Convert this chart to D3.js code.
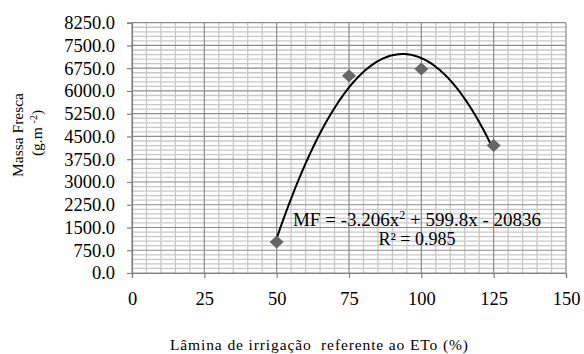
<!DOCTYPE html>
<html>
<head>
<meta charset="utf-8">
<script src="https://cdn.jsdelivr.net/npm/d3@7"></script>
<style>
  html, body { margin: 0; padding: 0; background: #fff; }
</style>
</head>
<body>
<svg id="chart" width="584" height="354" style="display:block;font-family:'Liberation Serif'"></svg>
<script>
// ---- data ----
const lamina = [50, 75, 100, 125];           // % ETo
const massaFresca = [1020, 6500, 6720, 4200]; // g.m-2
const trendCoef = [-3.206, 599.8, -20836];    // a x^2 + b x + c
const r2 = 0.985;
const xTicks = [0, 25, 50, 75, 100, 125, 150];
const yTicks = [0, 750, 1500, 2250, 3000, 3750, 4500, 5250, 6000, 6750, 7500, 8250];

const FONT = "Liberation Serif";
const svg = d3.select("#chart");
const pLeft = 132, pRight = 566, pTop = 22.7, pBottom = 273;

const x = d3.scaleLinear().domain([0, 150]).range([pLeft, pRight]);
const y = d3.scaleLinear().domain([0, 8250]).range([pBottom, pTop]);

const g = svg.append("g");

// minor gridlines
const xMinor = d3.range(0, 151, 5).filter(v => v % 25 !== 0);
const yMinor = d3.range(0, 8251, 150).filter(v => v % 750 !== 0);
g.selectAll(".vminor").data(xMinor).join("line")
  .attr("x1", d => x(d)).attr("x2", d => x(d)).attr("y1", pTop).attr("y2", pBottom)
  .attr("stroke", "#c8c8c8").attr("stroke-width", 1.3);
g.selectAll(".hminor").data(yMinor).join("line")
  .attr("x1", pLeft).attr("x2", pRight).attr("y1", d => y(d)).attr("y2", d => y(d))
  .attr("stroke", "#c8c8c8").attr("stroke-width", 1.3);
// major gridlines
g.selectAll(".vmajor").data(xTicks).join("line")
  .attr("x1", d => x(d)).attr("x2", d => x(d)).attr("y1", pTop).attr("y2", pBottom)
  .attr("stroke", "#8c8c8c").attr("stroke-width", 1.2);
g.selectAll(".hmajor").data(yTicks).join("line")
  .attr("x1", pLeft).attr("x2", pRight).attr("y1", d => y(d)).attr("y2", d => y(d))
  .attr("stroke", "#8c8c8c").attr("stroke-width", 1.2);

// axes
const xAxis = d3.axisBottom(x).tickValues(xTicks).tickSize(5).tickPadding(14).tickFormat(d3.format("d"));
const yAxis = d3.axisLeft(y).tickValues(yTicks).tickSize(5).tickPadding(12).tickFormat(d3.format(".1f"));

const gx = svg.append("g").attr("transform", `translate(0,${pBottom})`).call(xAxis);
const gy = svg.append("g").attr("transform", `translate(${pLeft},0)`).call(yAxis);
[gx, gy].forEach(a => {
  a.attr("font-family", FONT).attr("font-size", 18.5);
  a.select(".domain").attr("stroke", "#808080").attr("stroke-width", 1.2);
  a.selectAll(".tick line").attr("stroke", "#808080").attr("stroke-width", 1.2);
  a.selectAll(".tick text").attr("fill", "#000").attr("font-family", FONT).attr("font-size", 18.5);
});

// trendline
const fit = v => trendCoef[0] * v * v + trendCoef[1] * v + trendCoef[2];
const xs = d3.range(d3.min(lamina), d3.max(lamina) + 0.01, 0.5);
svg.append("path")
  .datum(xs)
  .attr("d", d3.line().x(d => x(d)).y(d => y(fit(d))))
  .attr("fill", "none").attr("stroke", "#000").attr("stroke-width", 2);

// markers (diamonds)
svg.selectAll(".pt").data(lamina).join("path")
  .attr("transform", (d, i) => `translate(${x(d)},${y(massaFresca[i])})`)
  .attr("d", "M0,-6.5L7,0L0,6.5L-7,0Z")
  .attr("fill", "#666666");

// equation text
const eq = svg.append("text").attr("x", 417).attr("y", 226).attr("text-anchor", "middle")
  .attr("font-family", FONT).attr("font-size", 19).attr("fill", "#000");
eq.append("tspan").text("MF = -3.206x");
eq.append("tspan").attr("dy", -7).attr("font-size", 12).text("2");
eq.append("tspan").attr("dy", 7).text(" + 599.8x - 20836");
svg.append("text").attr("x", 417).attr("y", 245).attr("text-anchor", "middle")
  .attr("font-family", FONT).attr("font-size", 18).attr("fill", "#000").text("R² = " + r2);

// axis titles
svg.append("text").attr("transform", "translate(23,135) rotate(-90)")
  .attr("text-anchor", "middle").attr("font-family", FONT).attr("font-size", 15.5).text("Massa Fresca");
const yt2 = svg.append("text").attr("transform", "translate(42,133) rotate(-90)")
  .attr("text-anchor", "middle").attr("font-family", FONT).attr("font-size", 15.5);
yt2.append("tspan").text("(g.m ");
yt2.append("tspan").attr("dy", -5).attr("font-size", 10).text("-2");
yt2.append("tspan").attr("dy", 5).text(")");

svg.append("text").attr("x", 319).attr("y", 350).attr("text-anchor", "middle")
  .attr("font-family", FONT).attr("font-size", 15.5)
  .attr("textLength", 298).attr("lengthAdjust", "spacing")
  .attr("xml:space", "preserve")
  .text("Lâmina de irrigação  referente ao ETo (%)");
</script>
</body>
</html>
